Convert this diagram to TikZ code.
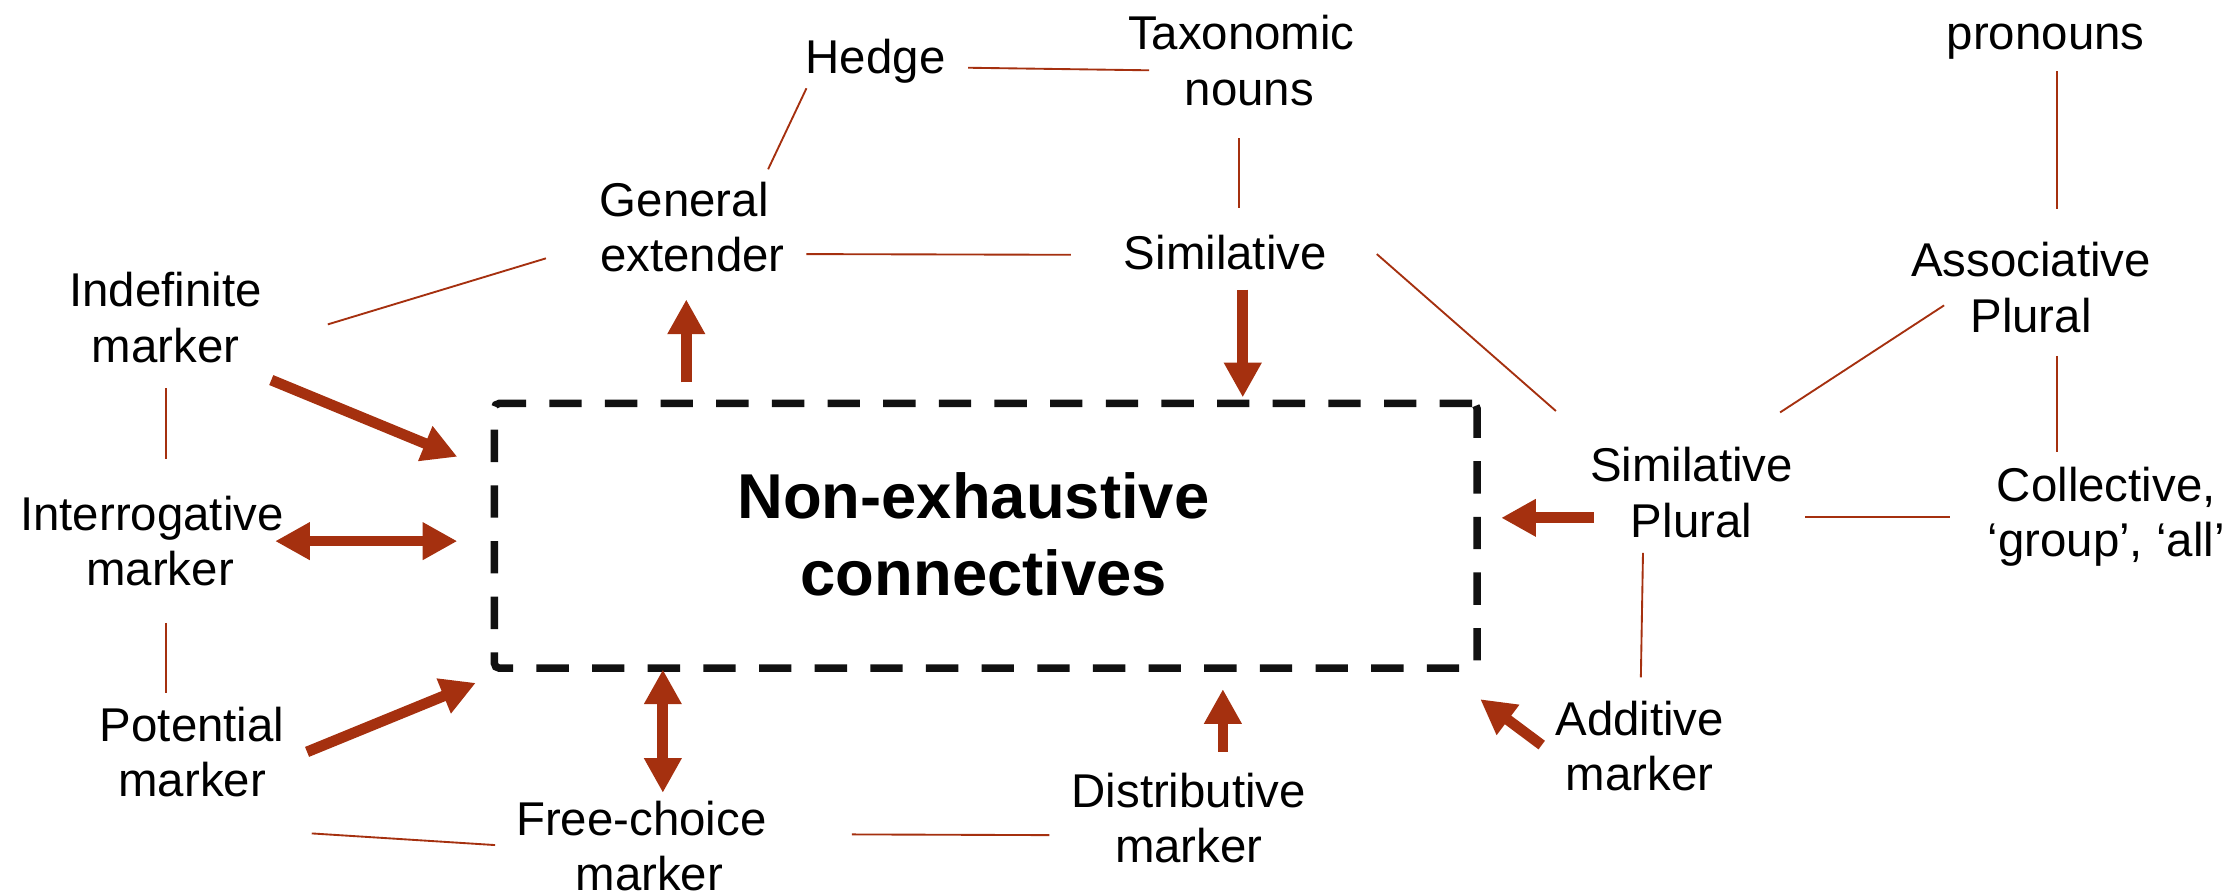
\documentclass[tikz,border=0pt]{standalone}
\usepackage{fontspec}
\setmainfont{Liberation Sans}
\usetikzlibrary{arrows.meta}
\definecolor{rust}{HTML}{A5300F}
\definecolor{ink}{HTML}{111111}
\begin{document}
\begin{tikzpicture}[x=0.02cm,y=-0.02cm,
  term/.style={align=center, inner sep=0pt, text=black,
    font=\fontsize{19}{22.2}\selectfont},
  coretext/.style={align=center, inner sep=0pt, text=black,
    font=\bfseries\fontsize{25.4}{30.8}\selectfont},
  corebox/.style={draw=ink, line width=3pt, dash pattern=on 12.97pt off 9.33pt,
    rounded corners=2pt, minimum width=13.84cm, minimum height=3.73cm, inner sep=0pt},
  link/.style={draw=rust, line width=0.75pt},
  tip/.style={Triangle[length=13.9pt,width=14.2pt]},
  push/.style={draw=rust, line width=4.3pt, -{Triangle[length=13.9pt,width=14.2pt]}},
  both/.style={draw=rust, line width=4.3pt,
    {Triangle[length=13.9pt,width=14.2pt]}-{Triangle[length=13.9pt,width=14.2pt]}},
]
\useasboundingbox (0,0) rectangle (1568,628);

% central dashed box
\node[corebox] (core) at (694,377.25) {};
\node[coretext] (coretitle) at (692.7,381.1)
  {\strut Non-exhaustive\kern.33em\\\strut connectives};

% surrounding terms
\node[term] (hedge) at (616.5,44.3)  {\strut Hedge};
\node[term] (taxo)  at (879.7,46.9)  {\strut Taxonomic\kern.34em\\\strut nouns};
\node[term] (gext)  at (487.5,164.0) {\strut General\kern.34em\\\strut extender};
\node[term] (simil) at (862.7,181.9) {\strut Similative};
\node[term] (indef) at (116.6,227.7) {\strut Indefinite\\\strut marker};
\node[term] (inter) at (112.7,384.9) {\strut Interrogative\kern.34em\\\strut marker};
\node[term] (poten) at (135.3,533.5) {\strut Potential\\\strut marker};
\node[term] (free)  at (457.2,599.7) {\strut Free-choice\kern.34em\\\strut marker};
\node[term] (distr) at (837,580.2)   {\strut Distributive\\\strut marker};
\node[term] (addit) at (1154.5,529.3) {\strut Additive\\\strut marker};
\node[term] (simpl) at (1191,350.9)  {\strut Similative\\\strut Plural};
\node[term] (coll)  at (1483,364.8)  {\strut Collective,\\\strut ‘group’, ‘all’};
\node[term] (assoc) at (1430,206.6)  {\strut Associative\\\strut Plural};
\node[term] (pron)  at (1440.3,27.0) {\strut pronouns};

% thin links between related terms
\draw[link] (681.6,47.7)  coordinate (hedge-r) -- (809,49.5)    coordinate (taxo-l);
\draw[link] (567.8,62.2)  coordinate (hedge-b) -- (540.8,119.2) coordinate (gext-t);
\draw[link] (567.8,178.9) coordinate (gext-r)  -- (753.9,179.4) coordinate (simil-l);
\draw[link] (872.1,97.4)  coordinate (taxo-b)  -- (872.1,146.7) coordinate (simil-t);
\draw[link] (230.8,228.4) coordinate (indef-r) -- (384.4,181.9) coordinate (gext-l);
\draw[link] (116.7,273.5) coordinate (indef-b) -- (116.7,323.2) coordinate (inter-t);
\draw[link] (116.7,438.5) coordinate (inter-b) -- (116.7,488.2) coordinate (poten-t);
\draw[link] (219.5,586.8) coordinate (poten-r) -- (348.6,595)   coordinate (free-l);
\draw[link] (599.8,587.5) coordinate (free-r)  -- (738.9,588)   coordinate (distr-l);
\draw[link] (969.4,178.9) coordinate (simil-r) -- (1095.5,289.4) coordinate (simpl-t);
\draw[link] (1368.8,215)  coordinate (assoc-l) -- (1253.3,290.4) coordinate (simpl-tr);
\draw[link] (1448,50.1)   coordinate (pron-b)  -- (1448,147)    coordinate (assoc-t);
\draw[link] (1448,250.6)  coordinate (assoc-b) -- (1448,318)    coordinate (coll-t);
\draw[link] (1271,364.2)  coordinate (simpl-r) -- (1373,364.2)  coordinate (coll-l);
\draw[link] (1156.8,389.2) coordinate (simpl-b) -- (1155.3,477) coordinate (addit-t);

% thick arrows to and from the central box
\draw[push] (191,267.6)   coordinate (indef-o) -- (322,321.6)   coordinate (core-nw);
\draw[both] (193.7,381)   coordinate (inter-o) -- (322,381)     coordinate (core-w);
\draw[push] (216.2,529.4) coordinate (poten-o) -- (335,480.8)   coordinate (core-sw);
\draw[both] (466.7,558.2) coordinate (free-o)  -- (466.7,471.4) coordinate (core-s1);
\draw[push] (861,529.3)   coordinate (distr-o) -- (861,485.2)   coordinate (core-s2);
\draw[push] (483.2,269.2) coordinate (core-n1) -- (483.2,210.8) coordinate (gext-i);
\draw[push] (875,204)     coordinate (simil-o) -- (875,279.8)   coordinate (core-n2);
\draw[push] (1122,364.6)  coordinate (simpl-o) -- (1057,364.6)  coordinate (core-e);
\draw[push] (1085.5,524.6) coordinate (addit-o) -- (1042.2,492.3) coordinate (core-se);
\end{tikzpicture}
\end{document}
